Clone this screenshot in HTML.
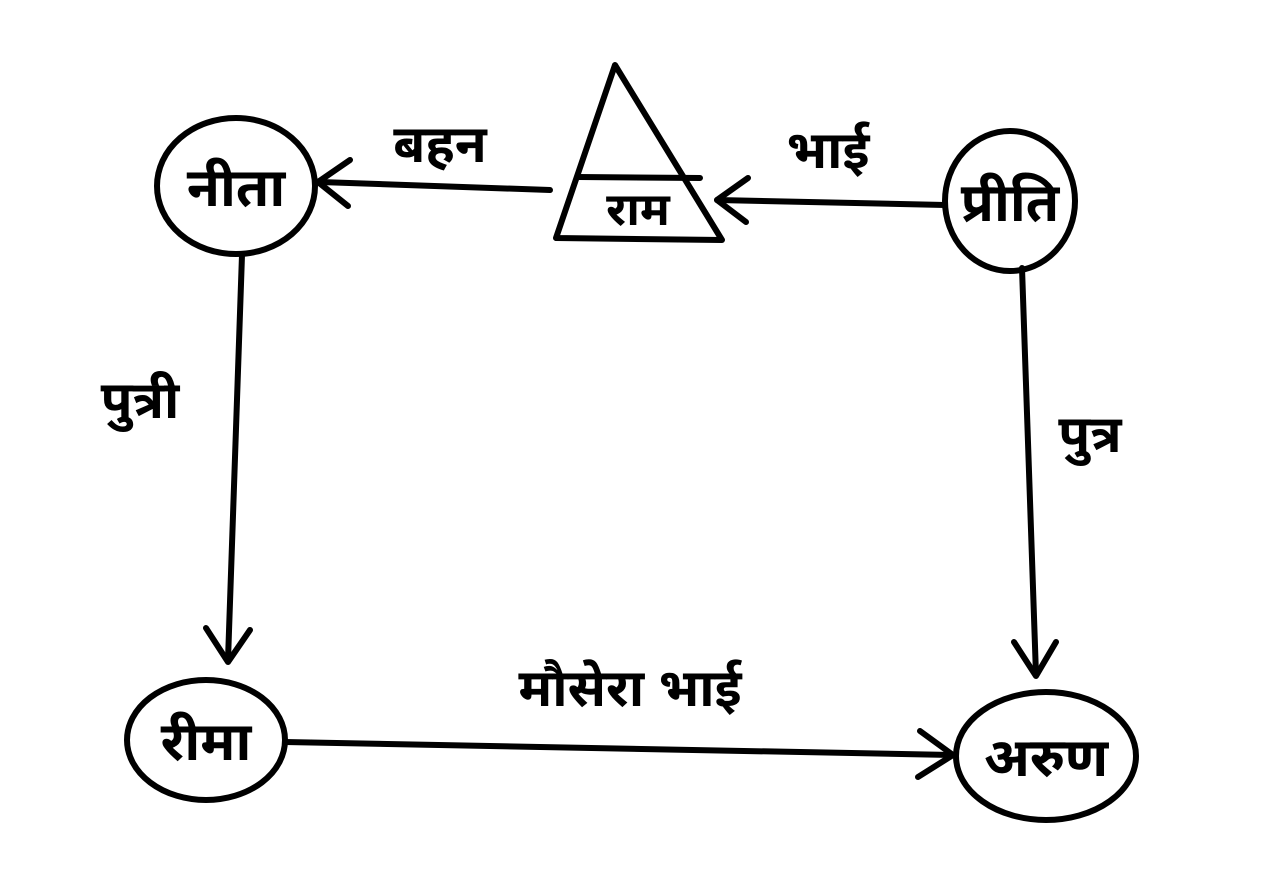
<!DOCTYPE html>
<html><head><meta charset="utf-8"><style>
html,body{margin:0;padding:0;background:#fff;}
svg{display:block}
text{font-family:"Liberation Sans","Noto Sans Devanagari","Lohit Devanagari",sans-serif;font-weight:bold;fill:#000;}
</style></head><body>
<svg width="1262" height="876" viewBox="0 0 1262 876" xmlns="http://www.w3.org/2000/svg">
<g fill="none" stroke="#000" stroke-width="6" stroke-linecap="round" stroke-linejoin="round">
<ellipse cx="236" cy="186" rx="79" ry="68"/>
<ellipse cx="1010" cy="201" rx="65" ry="70"/>
<ellipse cx="206" cy="740" rx="79" ry="60"/>
<ellipse cx="1046" cy="756" rx="90" ry="64"/>
<path d="M615 65 L556 238 L722 240 Z"/>
<line x1="578" y1="177" x2="700" y2="178"/>
<line x1="550" y1="190" x2="320" y2="182"/>
<path d="M350 160 L318 182 L348 206"/>
<line x1="945" y1="205" x2="717" y2="200"/>
<path d="M748 178 L717 200 L746 222"/>
<line x1="242" y1="255" x2="228" y2="660"/>
<path d="M206 628 L228 662 L250 630"/>
<line x1="1022" y1="268" x2="1036" y2="675"/>
<path d="M1014 642 L1036 676 L1056 642"/>
<line x1="285" y1="742" x2="952" y2="755"/>
<path d="M920 731 L953 755 L918 777"/>
</g>
<g font-size="54" text-anchor="middle">
<text x="236" y="206">नीता</text>
<text x="638" y="225" font-size="46">राम</text>
<text x="1010" y="221">प्रीति</text>
<text x="206" y="760">रीमा</text>
<text x="1046" y="776">अरुण</text>
<text x="440" y="162" font-size="52">बहन</text>
<text x="828" y="168" font-size="52">भाई</text>
<text x="140" y="418" font-size="52">पुत्री</text>
<text x="1090" y="452" font-size="52">पुत्र</text>
<text x="630" y="706" font-size="52">मौसेरा भाई</text>
</g>
</svg>
</body></html>
